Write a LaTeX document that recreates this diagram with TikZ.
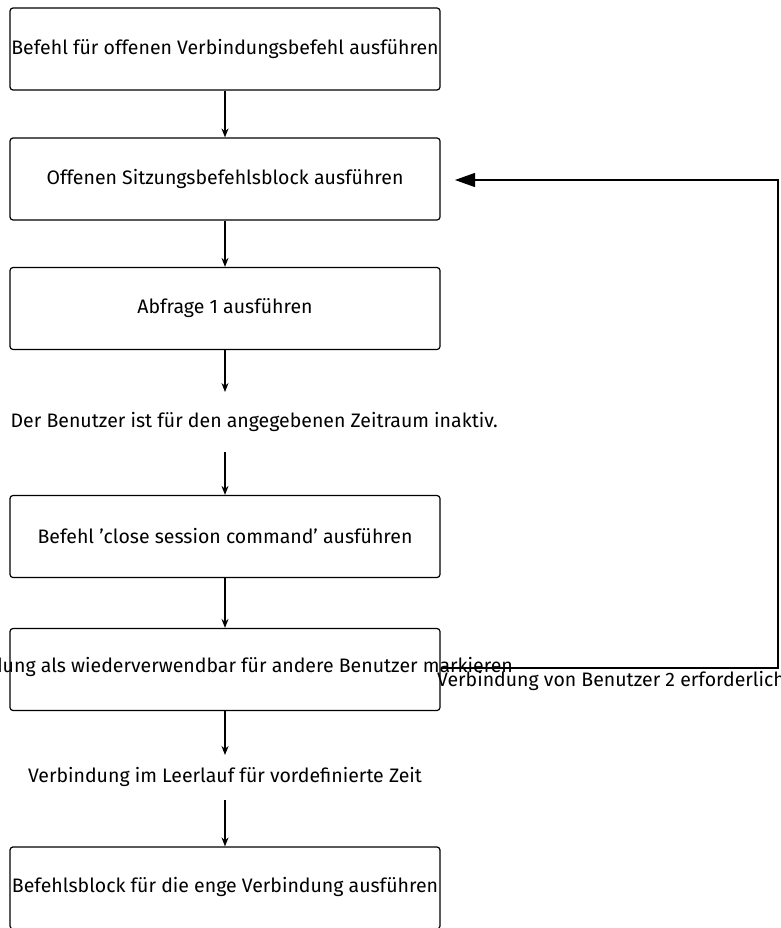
\documentclass[tikz,border=0pt]{standalone}
\usepackage{fontspec}
\setmainfont{Fira Sans}
\usetikzlibrary{arrows.meta}
\begin{document}
\begin{tikzpicture}[x=1pt,y=-1pt,
  box/.style={draw, line width=1.2pt, rounded corners=3pt, minimum width=430pt, minimum height=82pt, inner sep=0pt},
  lbl/.style={inner sep=0pt, font=\fontsize{19.5}{22}\selectfont},
  flow/.style={line width=1.2pt, -{Stealth[length=9pt,width=7pt]}},
  back/.style={line width=1.2pt, -{Triangle[length=20pt,width=14pt]}}]
\useasboundingbox (0,0) rectangle (780,928);
\node[box] (b1) at (225,49) {};
\node[lbl] (t1) at (225,49) {Befehl für offenen Verbindungsbefehl ausführen};
\node[box] (b2) at (225,179) {};
\node[lbl] (t2) at (225,179) {Offenen Sitzungsbefehlsblock ausführen};
\node[box] (b3) at (225,308.5) {};
\node[lbl] (t3) at (225,308) {Abfrage 1 ausführen};
\node[lbl, anchor=east] (t4) at (498,422) {Der Benutzer ist für den angegebenen Zeitraum inaktiv.};
\coordinate (t4top) at (225,392);
\coordinate (t4bot) at (225,452);
\node[box] (b4) at (225,536.5) {};
\node[lbl] (t5) at (225,536) {Befehl 'close session command' ausführen};
\node[box] (b5) at (225,669.5) {};
\node[lbl, anchor=east] (t6) at (513,667) {Verbindung als wiederverwendbar für andere Benutzer markieren};
\node[lbl] (t7) at (225,777) {Verbindung im Leerlauf für vordefinierte Zeit};
\coordinate (t7top) at (225,755);
\coordinate (t7bot) at (225,800);
\node[box] (b6) at (225,888) {};
\node[lbl] (t8) at (225,887) {Befehlsblock für die enge Verbindung ausführen};
\node[lbl, anchor=west] (t9) at (437,681) {Verbindung von Benutzer 2 erforderlich};
\coordinate (r1) at (778,668);
\coordinate (r2) at (778,180);
\coordinate (tip) at (455,180);
\draw[flow] (b1.south) -- (b2.north);
\draw[flow] (b2.south) -- (b3.north);
\draw[flow] (b3.south) -- (t4top);
\draw[flow] (t4bot) -- (b4.north);
\draw[flow] (b4.south) -- (b5.north);
\draw[flow] (b5.south) -- (t7top);
\draw[flow] (t7bot) -- (b6.north);
\draw[back] (b5.east |- r1) -- (r1) -- (r2) -- (tip);
\end{tikzpicture}
\end{document}
